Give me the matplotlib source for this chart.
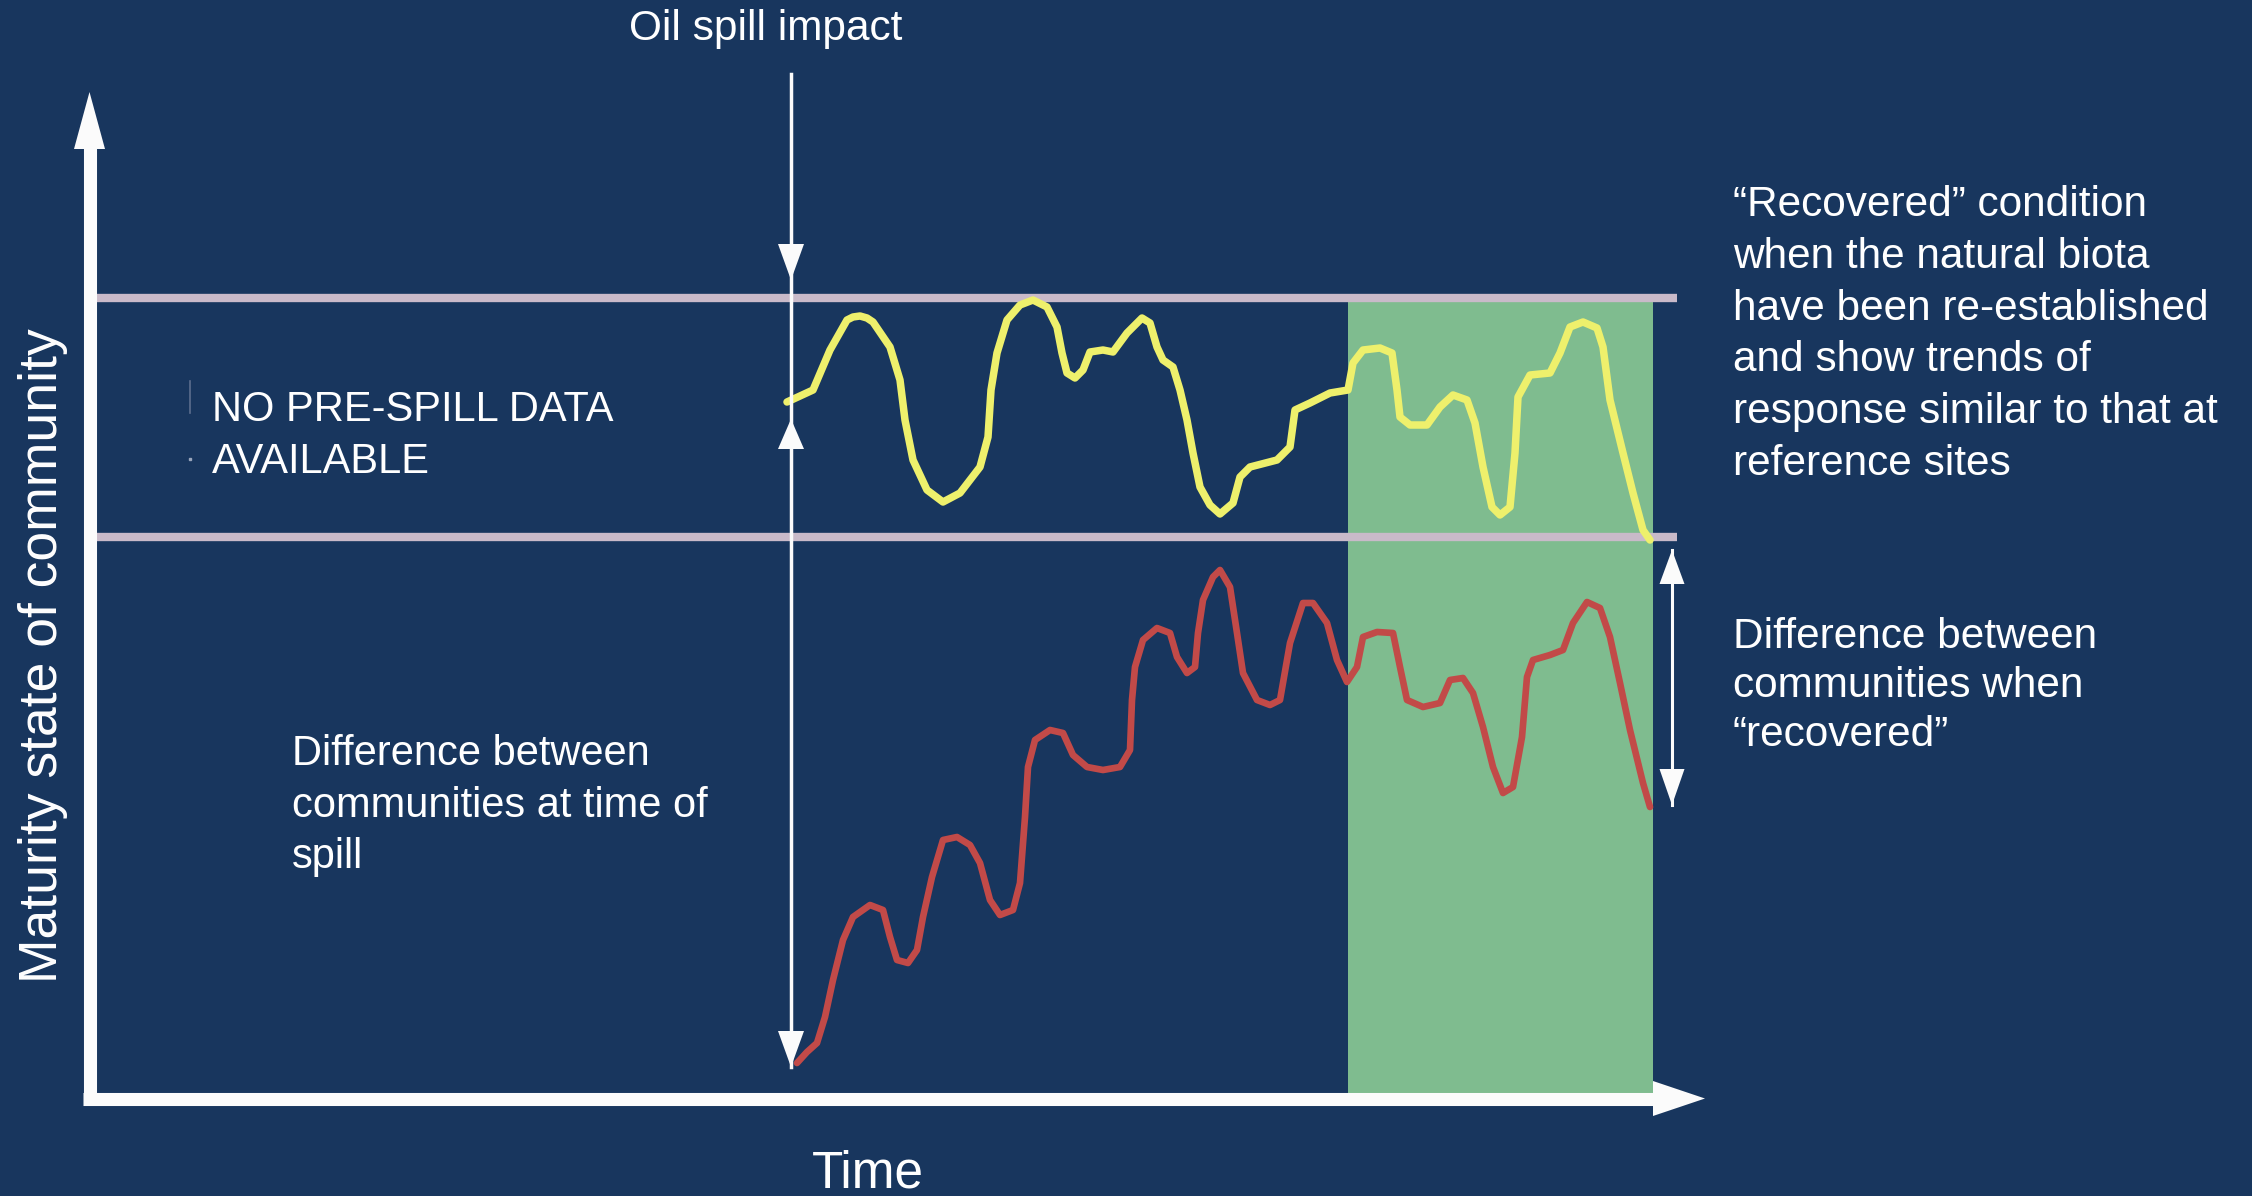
import numpy as np
import matplotlib
matplotlib.use('Agg')
import matplotlib.pyplot as plt
from matplotlib.patches import Polygon

plt.rcParams['font.family'] = ['Liberation Sans', 'DejaVu Sans']

# time / maturity in arbitrary units (axis runs 0..161.5 by 0..100.6)
yellow_t = [69.7, 72.3, 74.0, 75.7, 76.3, 77.0, 77.7, 78.3, 80.0, 81.0, 81.5, 82.3, 83.7, 85.3,
            87.0, 89.0, 89.8, 90.1, 90.7, 91.7, 93.0, 94.3, 95.7, 96.7, 97.2, 97.7, 98.5, 99.3,
            100.0, 101.3, 102.3, 103.7, 105.2, 106.0, 106.7, 107.3, 108.3, 109.0, 109.7, 110.3,
            111.0, 112.0, 113.0, 114.3, 115.0, 116.0, 118.7, 120.0, 120.5, 122.0, 124.0, 125.8,
            126.3, 127.3, 129.0, 130.2, 130.7, 131.0, 132.0, 133.7, 135.0, 136.3, 137.7, 138.5,
            139.3, 140.2, 141.0, 142.0, 142.5, 142.8, 144.0, 146.0, 147.0, 148.0, 149.3, 150.7,
            151.3, 152.0, 153.3, 154.3, 155.3, 156.0]
yellow_m = [69.6, 70.8, 74.8, 77.8, 78.1, 78.2, 78.0, 77.6, 75.1, 71.8, 67.8, 63.8, 60.8, 59.6,
            60.5, 63.1, 66.1, 70.8, 74.5, 77.8, 79.3, 79.8, 79.1, 77.1, 74.5, 72.5, 72.0, 72.8,
            74.6, 74.8, 74.6, 76.5, 78.0, 77.5, 75.1, 73.8, 73.1, 70.8, 67.8, 64.5,
            61.1, 59.3, 58.4, 59.5, 62.1, 63.1, 63.8, 65.1, 68.8, 69.5, 70.5, 70.8,
            73.5, 74.8, 75.0, 74.5, 70.8, 68.1, 67.3, 67.3, 69.1, 70.3, 69.8, 67.5,
            63.1, 59.1, 58.3, 59.1, 64.5, 70.1, 72.3, 72.5, 74.5, 77.1, 77.6, 77.0,
            75.1, 69.8, 64.5, 60.5, 56.8, 55.8]

red_t = [70.7, 71.7, 72.7, 73.5, 74.3, 75.3, 76.3, 78.0, 79.3, 80.0, 80.7, 81.8, 82.7, 83.3,
         84.2, 85.3, 86.7, 88.0, 89.0, 90.0, 91.0, 92.3, 93.0, 93.5, 93.8, 94.5, 96.0, 97.3,
         98.3, 99.7, 101.3, 103.0, 104.0, 104.2, 104.5, 105.3, 106.7, 108.0, 108.7, 109.7,
         110.5, 110.8, 111.3, 112.3, 113.0, 114.0, 114.7, 115.3, 116.7, 118.0, 119.0, 120.0,
         121.3, 122.3, 123.7, 124.7, 125.7, 126.7, 127.3, 128.7, 130.3, 131.0, 131.7, 133.3,
         135.0, 136.0, 137.3, 138.3, 139.3, 140.3, 141.3, 142.3, 143.2, 143.7, 144.3, 146.0,
         147.3, 148.3, 149.7, 151.0, 152.0, 153.0, 154.0, 155.3, 156.0]
red_m = [3.5, 4.6, 5.5, 8.1, 11.8, 15.8, 18.1, 19.3, 18.8, 16.1, 13.8, 13.5, 14.8, 18.1,
         22.1, 25.8, 26.1, 25.3, 23.5, 19.8, 18.3, 18.8, 21.5, 28.1, 33.1, 35.8, 36.8, 36.5,
         34.3, 33.1, 32.8, 33.1, 34.8, 39.8, 43.1, 45.8, 47.0, 46.5, 44.1, 42.5,
         43.1, 46.5, 49.8, 52.1, 52.8, 51.1, 46.5, 42.5, 39.8, 39.3, 39.8, 45.5,
         49.5, 49.5, 47.5, 43.8, 41.6, 43.1, 46.1, 46.6, 46.5, 43.1, 39.8, 39.1,
         39.5, 41.8, 42.0, 40.5, 37.1, 33.1, 30.5, 31.1, 36.1, 42.1, 43.8, 44.3,
         44.8, 47.5, 49.6, 49.0, 46.1, 41.5, 36.8, 31.5, 29.1]

ref_upper = 80.0
ref_lower = 56.1
ref_end = 158.7
spill_time = 70.1
recovered_window = (125.8, 156.3)

BG = '#18365e'
BAND = '#c9bac9'
GREEN = '#7fbc8f'
YELLOW = '#eef06c'
RED = '#c24a48'
WHITE = '#fbfbfb'

W, H = 2252, 1196
fig = plt.figure(figsize=(W / 100, H / 100), dpi=100, facecolor=BG)
ax = fig.add_axes([90 / W, 98 / H, 1615 / W, 1006 / H])
ax.set_facecolor(BG)
ax.set_xlim(0, 161.5)
ax.set_ylim(0, 100.6)
ax.axis('off')


def head(x, y, direction, length, width, color=WHITE):
    if direction == 'up':
        pts = [(x, y), (x - width / 2, y - length), (x + width / 2, y - length)]
    elif direction == 'down':
        pts = [(x, y), (x - width / 2, y + length), (x + width / 2, y + length)]
    else:
        pts = [(x, y), (x - length, y - width / 2), (x - length, y + width / 2)]
    ax.add_patch(Polygon(pts, closed=True, facecolor=color, edgecolor='none',
                         clip_on=False, zorder=6))


# recovered window and reference band
ax.fill_between(recovered_window, 0, ref_upper, color=GREEN, lw=0, zorder=1)
ax.hlines([ref_upper, ref_lower], 0, ref_end, colors=BAND, lw=6, zorder=2)

# community curves
ax.plot(yellow_t, yellow_m, color=YELLOW, lw=5.4, solid_joinstyle='round',
        solid_capstyle='round', zorder=3)
ax.plot(red_t, red_m, color=RED, lw=4.8, solid_joinstyle='round',
        solid_capstyle='round', zorder=3)

# spill marker
ax.plot([spill_time, spill_time], [102.4, 3.1], color=WHITE, lw=2.5,
        clip_on=False, zorder=5)
head(spill_time, 81.8, 'down', 3.6, 2.6)
head(spill_time, 67.9, 'up', 3.0, 2.6)
head(spill_time, 3.1, 'down', 3.6, 2.6)

# difference when recovered
ax.plot([158.2, 158.2], [54.8, 29.3], color=WHITE, lw=2.2, clip_on=False, zorder=5)
head(158.2, 54.8, 'up', 3.4, 2.5)
head(158.2, 29.3, 'down', 3.6, 2.5)

# axes with arrows
ax.plot([-0.05, -0.05], [-0.7, 95.2], color=WHITE, lw=9.4, solid_capstyle='butt',
        clip_on=False, zorder=5)
head(-0.05, 100.6, 'up', 5.7, 3.1)
ax.plot([-0.7, 156.5], [-0.05, -0.05], color=WHITE, lw=9.4, solid_capstyle='butt',
        clip_on=False, zorder=5)
head(161.5, -0.05, 'right', 5.2, 3.5)

# faint bullet remnants
ax.plot([10.0, 10.0], [68.5, 71.7], color='#5c6e8e', lw=1.2, clip_on=False, zorder=4)
ax.plot([10.0], [63.9], marker='s', ms=1.5, color='#9aa6bc', clip_on=False, zorder=4)

txt = dict(color='white', fontsize=30, va='baseline', ha='left', zorder=7)
ax.text(67.6, 105.8, 'Oil spill impact', **{**txt, 'ha': 'center', 'fontsize': 30.5})

ax.text(12.2, 67.7, 'NO PRE-SPILL DATA', **txt)
ax.text(12.2, 62.5, 'AVAILABLE', **txt)

left_lines = ['Difference between', 'communities at time of', 'spill']
for line, m in zip(left_lines, [33.3, 28.1, 23.0]):
    ax.text(20.2, m, line, **txt)

right_lines = ['\u201cRecovered\u201d condition', 'when the natural biota',
               'have been re-established', 'and show trends of',
               'response similar to that at', 'reference sites']
for line, m in zip(right_lines, [88.2, 83.0, 77.8, 72.7, 67.5, 62.3]):
    ax.text(164.3, m, line, **{**txt, 'fontsize': 30.5})

rec_lines = ['Difference between', 'communities when', '\u201crecovered\u201d']
for line, m in zip(rec_lines, [45.05, 40.1, 35.2]):
    ax.text(164.3, m, line, **{**txt, 'fontsize': 30.5})

ax.text(77.8, -8.9, 'Time', color='white', fontsize=37, ha='center', va='baseline')
ax.text(-3.3, 44.25, 'Maturity state of community', color='white', fontsize=38.5,
        rotation=90, rotation_mode='anchor', ha='center', va='baseline')

fig.savefig('out.png', dpi=100, facecolor=BG)
